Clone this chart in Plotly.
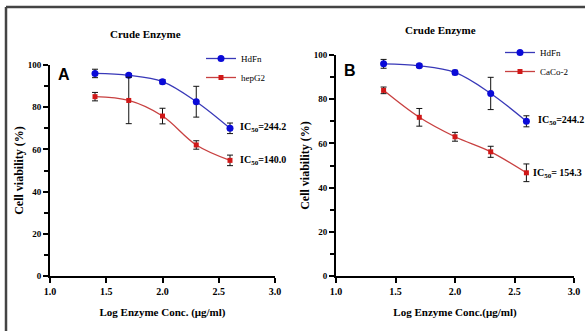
import plotly.graph_objects as go

W, H = 585, 331

log_conc = [1.4, 1.7, 2.0, 2.3, 2.6]

hdfn_mean = [96.0, 95.1, 92.1, 82.6, 70.0]
hdfn_err = [2.0, 0.8, 1.0, 7.3, 2.5]

hepg2_mean = [85.0, 83.2, 75.8, 62.1, 54.8]
hepg2_err = [2.0, 11.0, 3.7, 2.0, 2.5]

caco2_mean = [84.0, 71.8, 63.0, 56.2, 46.7]
caco2_err = [1.5, 4.0, 2.0, 2.5, 4.0]

x_ticks = [1.0, 1.5, 2.0, 2.5, 3.0]
y_ticks = [0, 20, 40, 60, 80, 100]

panel_titles = ["Crude Enzyme", "Crude Enzyme"]
panel_letters = ["A", "B"]
ic50_left = ["IC<sub>50</sub>=244.2", "IC<sub>50</sub>=140.0"]
ic50_right = ["IC<sub>50</sub>=244.2", "IC<sub>50</sub>= 154.3"]

BLUE_M = "#0a0ad8"
BLUE_L = "#3838b8"
RED_M = "#d01818"
RED_L = "#c84040"
FONT = "Liberation Serif"

fig = go.Figure()

def add_series(x, y, e, name, xa, ya, leg, mcol, lcol, sym, msize):
    fig.add_trace(go.Scatter(
        x=x, y=y, name=name, mode="lines+markers",
        line=dict(color=lcol, width=1.3, shape="spline", smoothing=1.0),
        marker=dict(color=mcol, symbol=sym, size=msize),
        error_y=dict(type="data", array=e, color="#111111", thickness=1, width=3),
        xaxis=xa, yaxis=ya, legend=leg, showlegend=True,
    ))

add_series(log_conc, hdfn_mean, hdfn_err, "HdFn", "x", "y", "legend", BLUE_M, BLUE_L, "circle", 7)
add_series(log_conc, hepg2_mean, hepg2_err, "hepG2", "x", "y", "legend", RED_M, RED_L, "square", 5)
add_series(log_conc, hdfn_mean, hdfn_err, "HdFn", "x2", "y2", "legend2", BLUE_M, BLUE_L, "circle", 7)
add_series(log_conc, caco2_mean, caco2_err, "CaCo-2", "x2", "y2", "legend2", RED_M, RED_L, "square", 5)

def xax(domain, anchor, title):
    return dict(
        domain=domain, anchor=anchor, range=[1.0, 3.0], tickvals=x_ticks,
        ticktext=[f"{v:.1f}" for v in x_ticks], automargin=False,
        showline=True, linecolor="black", linewidth=2, ticks="outside",
        ticklen=5, tickwidth=1.5, tickcolor="black", showgrid=False, zeroline=False,
        tickfont=dict(family=FONT, size=10, color="black", weight="bold"),
        title=dict(text=title, font=dict(family=FONT, size=11, color="black", weight="bold"), standoff=12),
    )

def yax(domain, anchor):
    return dict(
        domain=domain, anchor=anchor, range=[0, 100], tickvals=y_ticks, automargin=False,
        showline=True, linecolor="black", linewidth=2, ticks="outside",
        ticklen=5, tickwidth=1.5, tickcolor="black", showgrid=False, zeroline=False,
        minor=dict(tickvals=[10, 30, 50, 70, 90], ticks="outside", ticklen=4, tickwidth=1.5, tickcolor="black"),
        tickfont=dict(family=FONT, size=9, color="black", weight="bold"),
        title=dict(text="Cell viability (%)", font=dict(family=FONT, size=12, color="black", weight="bold"), standoff=2),
    )

ybot = (H - 276) / H
fig.update_layout(
    width=W, height=H, margin=dict(l=0, r=0, t=0, b=0, autoexpand=False),
    paper_bgcolor="white", plot_bgcolor="white",
    xaxis=xax([50 / W, 275 / W], "y", "Log Enzyme Conc. (μg/ml)"),
    yaxis=yax([ybot, (H - 65) / H], "x"),
    xaxis2=xax([336 / W, 574 / W], "y2", "Log Enzyme Conc.(μg/ml)"),
    yaxis2=yax([ybot, (H - 55) / H], "x2"),
    legend=dict(x=201 / W, y=1 - 44 / H, xanchor="left", yanchor="top",
                font=dict(family=FONT, size=9, color="black"), bgcolor="rgba(0,0,0,0)",
                tracegroupgap=0, itemwidth=30),
    legend2=dict(x=500 / W, y=1 - 38 / H, xanchor="left", yanchor="top",
                 font=dict(family=FONT, size=9, color="black"), bgcolor="rgba(0,0,0,0)",
                 tracegroupgap=0, itemwidth=30),
)

ann = []
def A(x, y, text, size, family=FONT, bold=True, xanchor="center"):
    ann.append(dict(x=x / W, y=1 - y / H, xref="paper", yref="paper", text=text, showarrow=False,
                    xanchor=xanchor, yanchor="middle",
                    font=dict(family=family, size=size, color="black", weight="bold" if bold else "normal")))

A(145, 34, panel_titles[0], 11)
A(440, 30, panel_titles[1], 11)
A(64, 74, panel_letters[0], 16, family="Liberation Sans")
A(350, 70, panel_letters[1], 16, family="Liberation Sans")
A(238, 127, ic50_left[0], 10, xanchor="left")
A(238, 160, ic50_left[1], 10, xanchor="left")
A(536, 121, ic50_right[0], 10, xanchor="left")
A(531, 173, ic50_right[1], 10, xanchor="left")
fig.update_layout(annotations=ann)

fig.update_layout(shapes=[
    dict(type="line", xref="paper", yref="paper", x0=6 / W, x1=1, y0=1 - 7 / H, y1=1 - 7 / H,
         line=dict(color="#444444", width=2.5), layer="above"),
    dict(type="line", xref="paper", yref="paper", x0=6 / W, x1=6 / W, y0=1 - 7 / H, y1=0,
         line=dict(color="#444444", width=2.5), layer="above"),
])

fig.write_html("out.html", config={"displayModeBar": False},
               post_script="document.body.style.margin='0';document.body.style.overflow='hidden';")
